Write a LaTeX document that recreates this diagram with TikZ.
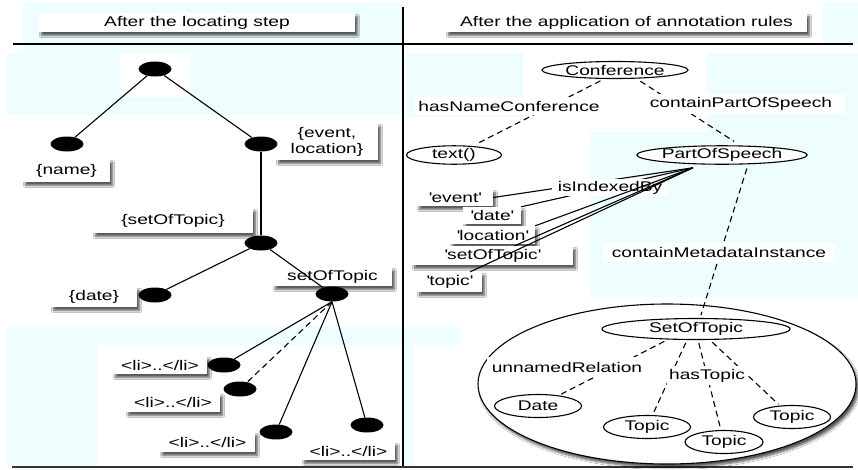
\documentclass[tikz,border=0pt]{standalone}
\usepackage{fontspec}
\setmainfont{Liberation Sans}[FakeStretch=1.37]
\usetikzlibrary{shapes.geometric,shadows.blur}
\definecolor{bgcyan}{RGB}{238,254,255}
\newcommand{\q}[1]{\textquotesingle#1\textquotesingle}
\begin{document}
\begin{tikzpicture}[x=1pt,y=-1pt,
  every node/.style={font=\fontsize{14}{16}\selectfont, inner sep=0pt},
  sh/.style={blur shadow={shadow xshift=2.5pt, shadow yshift=-3.5pt, shadow blur steps=6, shadow opacity=65}},
  lbl/.style={rectangle, fill=white, sh},
  elbl/.style={rectangle, fill=white},
  dot/.style={ellipse, fill=black, minimum width=33pt, minimum height=15pt},
  cls/.style={ellipse, draw, fill=white, line width=1.1pt},
  conn/.style={line width=1.1pt},
  dconn/.style={line width=1.1pt, dash pattern=on 6pt off 4pt}]
\useasboundingbox (0,0) rectangle (858,469);
\fill[white] (0,0) rectangle (858,469);
% light background regions
\fill[bgcyan] (23,3) rectangle (403,53);
\fill[bgcyan] (7,53) rectangle (403,115);
\fill[white] (120,53) rectangle (190,97);
\fill[bgcyan] (7,327) rectangle (403,345);
\fill[bgcyan] (7,345) rectangle (97,467);
\fill[bgcyan] (823,3) rectangle (858,44);
\fill[bgcyan] (407,53) rectangle (523,117);
\fill[bgcyan] (707,53) rectangle (858,132);
\fill[bgcyan] (590,132) rectangle (858,297);
\fill[bgcyan] (403,327) rectangle (460,345);
\fill[bgcyan] (403,345) rectangle (413,467);
% separators
\coordinate (vt) at (403,7);
\coordinate (vb) at (403,467);
\coordinate (hl) at (13,44);
\coordinate (hr) at (853,44);
\coordinate (bl) at (12,467);
\coordinate (br) at (853,467);
\draw[line width=1.3pt] (vt) -- (vb);
\draw[line width=1.3pt] (hl) -- (hr);
\draw[line width=2pt, black!80] (bl) -- (br);
% titles
\node[lbl, minimum width=316pt, minimum height=19pt] (t1) at (197,22.5) {After the locating step};
\node[lbl, minimum width=361pt, minimum height=19pt] (t2) at (626.5,22.5) {After the application of annotation rules};
% ---------------- left tree ----------------
\node[lbl, minimum width=87pt, minimum height=23pt] (lname) at (66.5,170.5) {\{name\}};
\node[lbl, minimum width=102pt, minimum height=37pt, align=center] (levent) at (327,141.5) {\{event,\\location\}};
\node[lbl, minimum width=160pt, minimum height=25pt] (lsot) at (173,220.5) {\{setOfTopic\}};
\node[lbl, minimum width=86pt, minimum height=20pt] (ldate) at (94,297) {\{date\}};
\node[lbl, minimum width=119pt, minimum height=19pt] (lsot2) at (332.5,276.5) {setOfTopic};
\node[lbl, minimum width=94pt, minimum height=18pt] (lli1) at (160,365) {<li>..</li>};
\node[lbl, minimum width=94pt, minimum height=19pt] (lli2) at (173,402.5) {<li>..</li>};
\node[lbl, minimum width=95pt, minimum height=20pt] (lli3) at (207.5,442) {<li>..</li>};
\node[lbl, minimum width=93pt, minimum height=18pt] (lli4) at (348.5,451) {<li>..</li>};
\node[dot] (root) at (155,69) {};
\node[dot] (name) at (67,144) {};
\node[dot] (event) at (261,144) {};
\node[dot] (sot) at (261,243) {};
\node[dot] (date) at (155,295) {};
\node[dot] (sot2) at (332,294) {};
\node[dot] (li1) at (224,365) {};
\node[dot] (li2) at (240,389) {};
\node[dot] (li3) at (276,432) {};
\node[dot] (li4) at (367,425) {};
\draw[conn] (root) -- (name);
\draw[conn] (root) -- (event);
\draw[conn] (event) -- (sot);
\draw[conn] (sot) -- (date);
\draw[conn] (sot) -- (sot2);
\draw[conn] (sot2.south) -- (li1);
\draw[dconn] (sot2.south) -- (li2);
\draw[conn] (sot2.south) -- (li3);
\draw[conn] (sot2.south) -- (li4);
% ---------------- right graph ----------------
\node[ellipse, draw, fill=white, line width=1.1pt, minimum width=378pt, minimum height=160pt, sh] (grp) at (667,384) {};
\node[lbl, minimum width=76pt, minimum height=17pt] (ev) at (455,197.5) {\q{event}};
\node[lbl, minimum width=58pt, minimum height=17pt] (dtq) at (492,215.5) {\q{date}};
\node[lbl, minimum width=85pt, minimum height=18pt] (locq) at (492.5,235) {\q{location}};
\node[lbl, minimum width=161pt, minimum height=19pt] (sotq) at (492.5,255.5) {\q{setOfTopic}};
\node[lbl, minimum width=65pt, minimum height=20pt] (tq) at (449.5,282) {\q{topic}};
\node[cls, minimum width=146pt, minimum height=17pt] (conf) at (615,70) {Conference};
\node[cls, minimum width=95pt, minimum height=16pt] (txt) at (454,155) {text()};
\node[cls, minimum width=133pt, minimum height=16pt] (pos) at (722,155) {PartOfSpeech};
\node[cls, minimum width=188pt, minimum height=21pt] (sotr) at (696,329) {SetOfTopic};
\node[cls, minimum width=87pt, minimum height=23pt] (dater) at (538,406) {Date};
\node[cls, minimum width=87pt, minimum height=23pt] (top1) at (647,427) {Topic};
\node[cls, minimum width=78pt, minimum height=23pt] (top2) at (724,442) {Topic};
\node[cls, minimum width=77pt, minimum height=23pt] (top3) at (792,417) {Topic};
\coordinate (pf) at ([xshift=-29pt,yshift=-3pt]pos.south);
% dashed relations
\draw[dconn, shorten <=4pt, shorten >=5pt] ([xshift=-11pt]conf.south) -- ([xshift=20pt]txt.north);
\draw[dconn, shorten <=4pt, shorten >=7pt] ([xshift=22pt]conf.south) -- ([xshift=18pt]pos.north);
\draw[dconn, shorten <=4pt, shorten >=3pt] ([xshift=26pt]pos.south) -- ([xshift=4pt]sotr.north);
\draw[dconn, shorten <=3pt, shorten >=2pt] ([xshift=-29pt]sotr.south) -- (dater);
\draw[dconn, shorten <=3pt, shorten >=3pt] ([xshift=-9pt]sotr.south) -- (top1);
\draw[dconn, shorten <=3pt, shorten >=3pt] ([xshift=2pt]sotr.south) -- (top2);
\draw[dconn, shorten <=3pt, shorten >=2pt] ([xshift=14pt]sotr.south) -- (top3);
% isIndexedBy lines
\draw[conn] (pf) -- (ev.east);
\draw[conn] (pf) -- (dtq.north east);
\node[elbl, minimum width=116pt, minimum height=17pt] (iib) at (610,187.5) {isIndexedBy};
\draw[conn] (pf) -- (locq.north east);
\draw[conn] (pf) -- ([xshift=22pt]sotq.north);
\draw[conn] (pf) -- ([xshift=-12pt]tq.north east);
% edge labels
\node[elbl, minimum width=188pt, minimum height=18pt] (hnc) at (509,106) {hasNameConference};
\node[elbl, minimum width=207pt, minimum height=20pt] (cpos) at (741,104) {containPartOfSpeech};
\node[elbl, minimum width=232pt, minimum height=19pt] (cmi) at (719,252.5) {containMetadataInstance};
\node[elbl, minimum width=160pt, minimum height=20pt] (unr) at (567,367) {unnamedRelation};
\node[elbl, minimum width=80pt, minimum height=19pt] (hst) at (707,375.5) {hasTopic};
\end{tikzpicture}
\end{document}
